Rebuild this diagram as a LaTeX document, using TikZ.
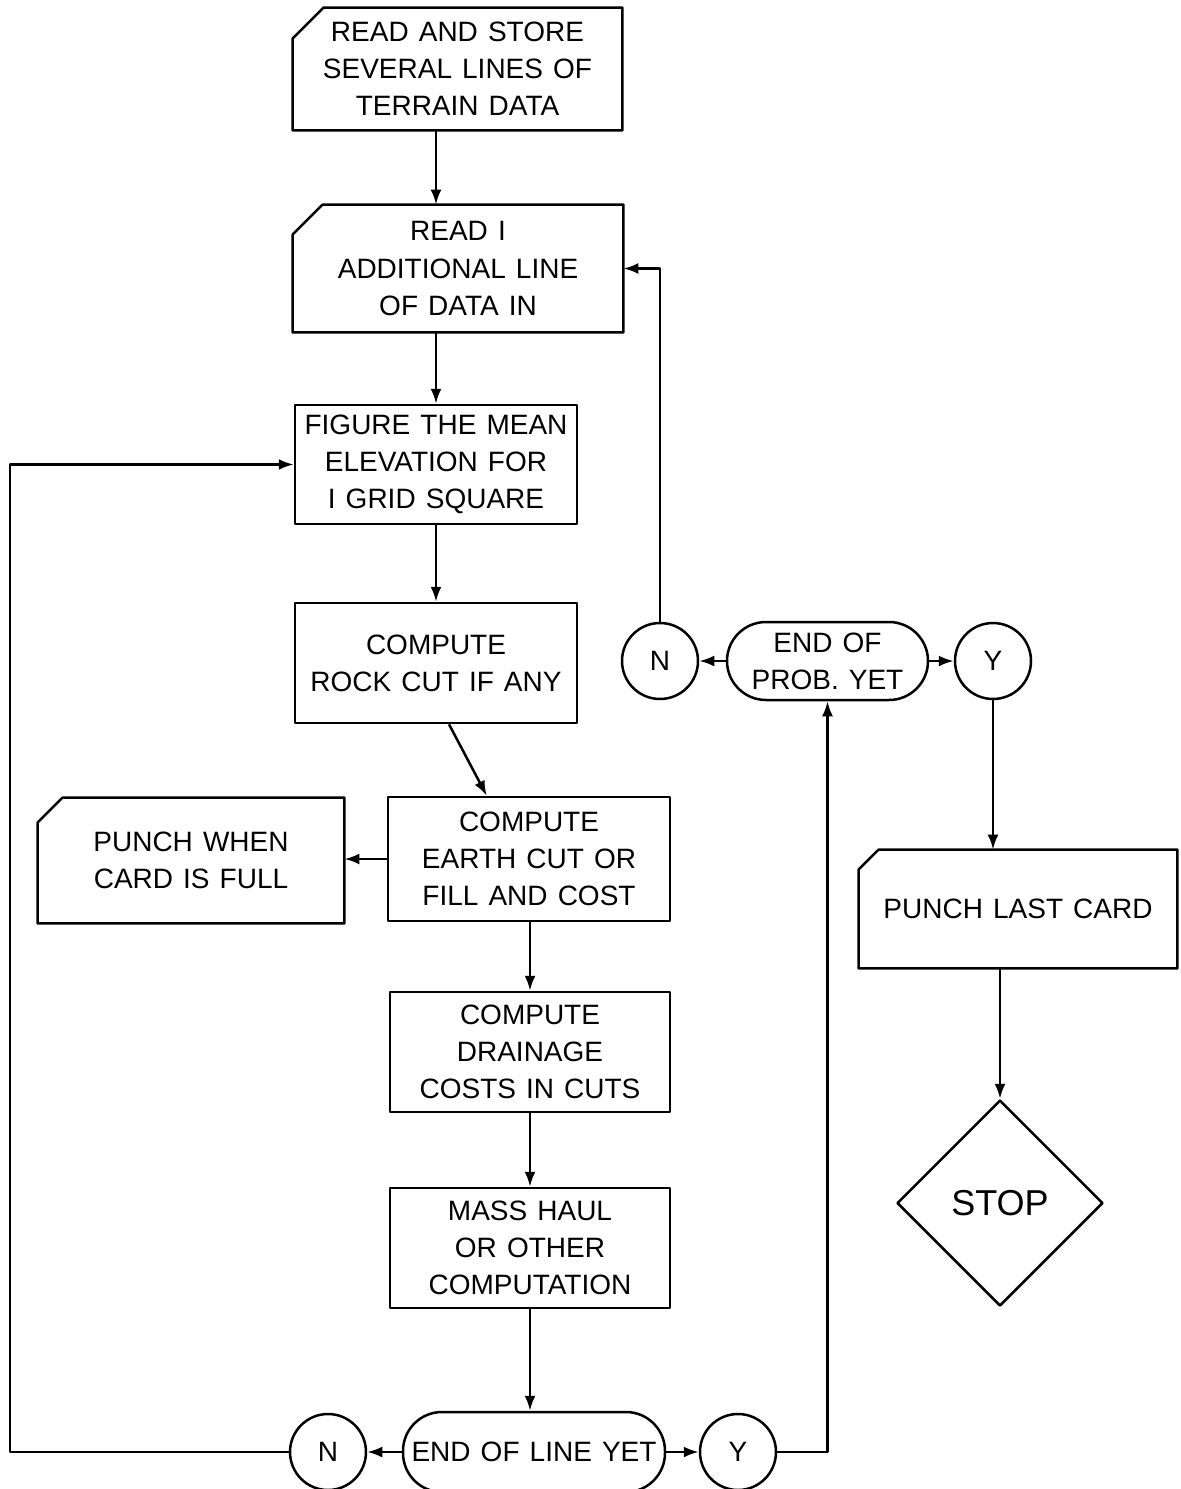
\documentclass[tikz,border=0pt]{standalone}
\usepackage{fontspec}
\setmainfont{Liberation Sans}
\usetikzlibrary{shapes.geometric,arrows.meta,calc}
\newcommand\mycard[2]{\draw[ln] ($(#1.north west)+(0,#2)$) -- ($(#1.north west)+(#2,0)$) -- (#1.north east) -- (#1.south east) -- (#1.south west) -- cycle;}
\begin{document}
\begin{tikzpicture}[x=0.5pt,y=-0.5pt,
  every node/.style={font={\fontsize{14}{18.5}\selectfont\spaceskip=0.36em\relax}, align=center, inner sep=0pt},
  ln/.style={line width=1.25pt, line join=round},
  box/.style={draw, rectangle, ln},
  card/.style={rectangle},
  circ/.style={draw, circle, minimum size=38pt, ln},
  term/.style={draw, rectangle, rounded corners=19.5pt, ln},
  arr/.style={ln, -{Latex[length=7.5pt,width=5.5pt]}}]
\useasboundingbox (0,0) rectangle (1180,1489);
\fill[white] (0,0) rectangle (1180,1489);

\node[card, minimum width=164.5pt, minimum height=61pt] (b1) at (457.5,69) {READ AND STORE\\SEVERAL LINES OF\\TERRAIN DATA};
\node[card, minimum width=165pt, minimum height=63.5pt] (b2) at (458,268.5) {READ I\\ADDITIONAL LINE\\OF DATA IN};
\node[box, minimum width=141pt, minimum height=59.5pt] (b3) at (436,464.5) {FIGURE THE MEAN\\ELEVATION FOR\\I GRID SQUARE};
\node[box, minimum width=141pt, minimum height=60pt] (b4) at (436,663) {COMPUTE\\ROCK CUT IF ANY};
\node[box, minimum width=141pt, minimum height=62pt] (b5) at (529,859) {COMPUTE\\EARTH CUT OR\\FILL AND COST};
\node[card, minimum width=153pt, minimum height=62.5pt] (p1) at (191,860.5) {PUNCH WHEN\\CARD IS FULL};
\node[box, minimum width=140pt, minimum height=60pt] (b6) at (530,1052) {COMPUTE\\DRAINAGE\\COSTS IN CUTS};
\node[box, minimum width=140pt, minimum height=60pt] (b7) at (530,1248) {MASS HAUL\\OR OTHER\\COMPUTATION};
\node[term, minimum width=131pt, minimum height=40pt] (t1) at (534,1452) {END OF LINE YET};
\node[circ] (n1) at (328,1452) {N};
\node[circ] (y1) at (738,1452) {Y};
\node[term, minimum width=100.5pt, minimum height=39pt] (t2) at (827.5,661) {END OF\\PROB. YET};
\node[circ] (n2) at (660,661) {N};
\node[circ] (y2) at (993,661) {Y};
\node[card, minimum width=159pt, minimum height=59pt] (p2) at (1018,909) {PUNCH LAST CARD};
\node[draw, diamond, ln, minimum width=103pt, minimum height=103pt, aspect=1, font={\fontsize{18}{20}\selectfont}] (stop) at (1000,1203) {STOP};

\mycard{b1}{31}
\mycard{b2}{30}
\mycard{p1}{25}
\mycard{p2}{20}

\coordinate (xa) at (436,0);
\coordinate (xb) at (530,0);
\coordinate (xl) at (10,0);
\draw[arr] (b1.south -| xa) -- (b2.north -| xa);
\draw[arr] (b2.south -| xa) -- (b3.north -| xa);
\draw[arr] (b3.south -| xa) -- (b4.north -| xa);
\draw[arr] ($(b4.south)+(13,0)$) -- ($(b5.north west)+(100,0)$);
\draw[arr] (b5.west) -- (b5.west -| p1.east);
\draw[arr] (b5.south -| xb) -- (b6.north -| xb);
\draw[arr] (b6.south -| xb) -- (b7.north -| xb);
\draw[arr] (b7.south -| xb) -- (t1.north -| xb);
\draw[arr] (t1.west) -- (n1.east);
\draw[arr] (t1.east) -- (y1.west);
\draw[arr] (n1.west) -- (n1.west -| xl) |- (b3.west);
\draw[arr] (y1.east) -| (t2.south);
\draw[arr] (t2.west) -- (n2.east);
\draw[arr] (t2.east) -- (y2.west);
\draw[arr] (n2.north) |- (b2.east);
\draw[arr] (y2.south) -- (y2.south |- p2.north);
\draw[arr] (p2.south -| stop.north) -- (stop.north);
\end{tikzpicture}
\end{document}
